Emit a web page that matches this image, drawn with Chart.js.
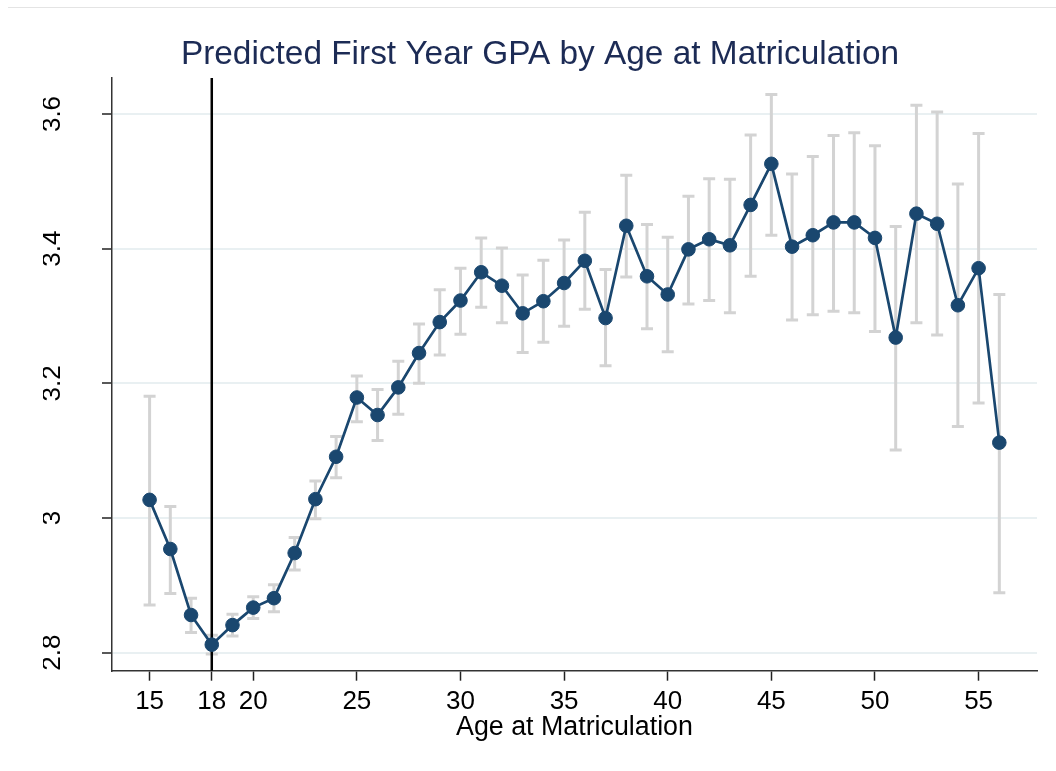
<!DOCTYPE html>
<html>
<head>
<meta charset="utf-8">
<script src="https://cdn.jsdelivr.net/npm/chart.js@4.4.1/dist/chart.umd.min.js"></script>
<style>
  html, body { margin: 0; padding: 0; background: #fff; }
  #wrap { position: relative; width: 1056px; height: 771px; }
  #frame { position: absolute; left: 8px; right: 0; top: 7px; border-top: 1px solid #e4e4e4; }
  canvas { display: block; }
</style>
</head>
<body>
<div id="wrap">
  <div id="frame"></div>
  <canvas id="gpa-chart" width="1056" height="771"></canvas>
</div>
<script>
// values
const ages = [15, 16, 17, 18, 19, 20, 21, 22, 23, 24, 25, 26, 27, 28, 29, 30, 31, 32, 33, 34, 35,
              36, 37, 38, 39, 40, 41, 42, 43, 44, 45, 46, 47, 48, 49, 50, 51, 52, 53, 54, 55, 56];
const gpa = [3.027, 2.954, 2.856, 2.812, 2.841, 2.867, 2.881, 2.948, 3.028, 3.091, 3.179,
             3.153, 3.194, 3.245, 3.291, 3.323, 3.365, 3.345, 3.304, 3.322, 3.349,
             3.382, 3.297, 3.434, 3.359, 3.332, 3.399, 3.414, 3.405, 3.465, 3.526,
             3.403, 3.420, 3.439, 3.439, 3.416, 3.268, 3.452, 3.437, 3.316, 3.371, 3.112];
const ciLow = [2.871, 2.888, 2.830, 2.798, 2.825, 2.851, 2.861, 2.923, 2.999, 3.060, 3.143,
               3.115, 3.154, 3.200, 3.242, 3.273, 3.313, 3.290, 3.246, 3.261, 3.285,
               3.310, 3.226, 3.358, 3.281, 3.247, 3.318, 3.323, 3.305, 3.359, 3.420,
               3.294, 3.302, 3.307, 3.305, 3.277, 3.101, 3.290, 3.272, 3.136, 3.171, 2.889];
const ciHigh = [3.181, 3.017, 2.881, 2.826, 2.857, 2.883, 2.901, 2.971, 3.055, 3.121, 3.211,
                3.191, 3.233, 3.288, 3.339, 3.371, 3.416, 3.401, 3.361, 3.383, 3.413,
                3.454, 3.369, 3.509, 3.436, 3.417, 3.478, 3.504, 3.503, 3.569, 3.629,
                3.511, 3.537, 3.568, 3.572, 3.553, 3.433, 3.613, 3.603, 3.496, 3.571, 3.332];
const xTicks = [15, 18, 20, 25, 30, 35, 40, 45, 50, 55];
const yTicks = [2.8, 3, 3.2, 3.4, 3.6];
const yTickLabels = ['2.8', '3', '3.2', '3.4', '3.6'];
const refAge = 18;

const FONT = '"Liberation Sans", Arial, Helvetica, sans-serif';
const NAVY = '#1a476f';

// draw the confidence intervals (capped) under the line, plus the vertical line at 18
const ciPlugin = {
  id: 'ciBars',
  beforeDatasetsDraw(chart) {
    const { ctx, chartArea, scales: { x, y } } = chart;
    ctx.save();
    ctx.strokeStyle = '#d3d3d3';
    ctx.lineWidth = 3;
    ages.forEach((a, i) => {
      const px = x.getPixelForValue(a);
      const top = y.getPixelForValue(ciHigh[i]);
      const bot = y.getPixelForValue(ciLow[i]);
      ctx.beginPath();
      ctx.moveTo(px, top); ctx.lineTo(px, bot);
      ctx.moveTo(px - 6, top); ctx.lineTo(px + 6, top);
      ctx.moveTo(px - 6, bot); ctx.lineTo(px + 6, bot);
      ctx.stroke();
    });
    const rx = x.getPixelForValue(refAge);
    ctx.strokeStyle = '#000';
    ctx.lineWidth = 2.5;
    ctx.beginPath();
    ctx.moveTo(rx, chartArea.top);
    ctx.lineTo(rx, chartArea.bottom);
    ctx.stroke();
    ctx.restore();
  }
};

new Chart(document.getElementById('gpa-chart'), {
  type: 'line',
  data: {
    datasets: [{
      data: ages.map((a, i) => ({ x: a, y: gpa[i] })),
      borderColor: NAVY,
      backgroundColor: NAVY,
      pointBackgroundColor: NAVY,
      pointBorderColor: NAVY,
      borderWidth: 2.7,
      pointRadius: 6.8,
      pointBorderWidth: 1,
      tension: 0
    }]
  },
  options: {
    responsive: false,
    animation: false,
    devicePixelRatio: 1,
    layout: { padding: { left: 43, right: 19, top: 0, bottom: 0 } },
    plugins: {
      legend: { display: false },
      tooltip: { enabled: false },
      title: {
        display: true,
        text: 'Predicted First Year GPA by Age at Matriculation',
        color: '#1c2b55',
        font: { family: FONT, size: 33.4, weight: 'normal' },
        padding: { top: 35, bottom: 2.9 }
      }
    },
    scales: {
      x: {
        type: 'linear',
        min: 13.186,
        max: 57.818,
        afterBuildTicks: s => { s.ticks = xTicks.map(v => ({ value: v })); },
        afterFit: s => { s.height = 100.3; },
        ticks: {
          autoSkip: false,
          maxRotation: 0,
          padding: 5.7,
          color: '#000',
          font: { family: FONT, size: 26 },
          callback: v => String(v)
        },
        grid: { drawOnChartArea: false, tickLength: 10, tickColor: '#222', tickWidth: 1.5 },
        border: { color: '#333', width: 1.5 },
        title: {
          display: true,
          text: 'Age at Matriculation',
          color: '#000',
          font: { family: FONT, size: 26.8 },
          padding: { top: 0, bottom: 27.5 }
        }
      },
      y: {
        min: 2.7733,
        max: 3.6535,
        afterBuildTicks: s => { s.ticks = yTicks.map(v => ({ value: v })); },
        afterFit: s => { s.width = 69; },
        ticks: {
          minRotation: 90,
          maxRotation: 90,
          crossAlign: 'center',
          padding: 31,
          color: '#000',
          font: { family: FONT, size: 26 },
          callback: (v, i) => yTickLabels[i]
        },
        grid: { color: '#e9f0f2', lineWidth: 2, tickLength: 10, tickColor: '#222', tickWidth: 1.5 },
        border: { color: '#333', width: 1.5 }
      }
    }
  },
  plugins: [ciPlugin]
});
</script>
</body>
</html>
